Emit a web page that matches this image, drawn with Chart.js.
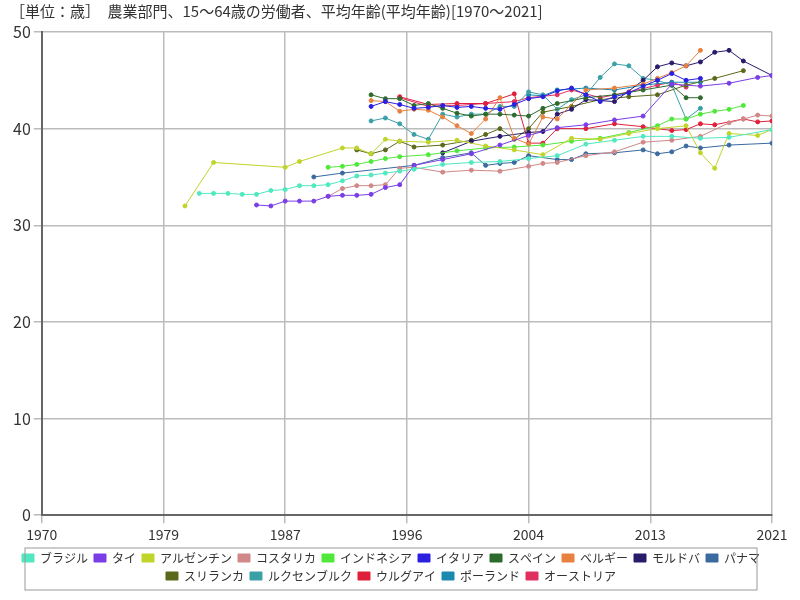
<!DOCTYPE html>
<html><head><meta charset="utf-8">
<script src="https://cdn.jsdelivr.net/npm/chart.js@4"></script>
<style>body{margin:0;background:#fff}</style>
</head><body><canvas id="myChart" width="800" height="600"></canvas>
<script>
// [year, age] pairs
const brazil = [[1981,33.3],[1982,33.3],[1983,33.3],[1984,33.2],[1985,33.2],[1986,33.6],[1987,33.7],[1988,34.1],[1989,34.1],[1990,34.2],[1991,34.6],[1992,35.1],[1993,35.2],[1994,35.4],[1995,35.6],[1996,35.8],[1998,36.3],[2000,36.5],[2002,36.6],[2004,36.9],[2006,37.2],[2008,38.4],[2010,38.8],[2012,39.2],[2014,39.2],[2016,39.0],[2018,39.1],[2021,39.9]];
const thai = [[1985,32.1],[1986,32.0],[1987,32.5],[1988,32.5],[1989,32.5],[1990,33.0],[1991,33.1],[1992,33.1],[1993,33.2],[1994,33.9],[1995,34.2],[1996,36.2],[1998,36.8],[2000,37.4],[2002,38.3],[2004,39.3],[2006,40.1],[2008,40.4],[2010,40.9],[2012,41.3],[2014,44.6],[2016,44.4],[2018,44.7],[2020,45.3],[2021,45.5]];
const argentina = [[1980,32.0],[1982,36.5],[1987,36.0],[1988,36.6],[1991,38.0],[1992,38.0],[1993,37.4],[1994,38.9],[1995,38.7],[1997,38.6],[1999,38.8],[2001,38.2],[2003,37.8],[2005,37.3],[2007,39.0],[2009,38.9],[2011,39.5],[2013,40.0],[2015,40.3],[2016,37.5],[2017,35.9],[2018,39.5],[2020,39.3],[2021,39.9]];
const costaRica = [[1990,33.0],[1991,33.8],[1992,34.1],[1993,34.1],[1994,34.2],[1995,35.9],[1996,36.0],[1998,35.5],[2000,35.7],[2002,35.6],[2004,36.1],[2005,36.4],[2006,36.5],[2008,37.2],[2010,37.6],[2012,38.6],[2014,38.8],[2016,39.2],[2018,40.6],[2019,41.0],[2020,41.4],[2021,41.3]];
const indonesia = [[1990,36.0],[1991,36.1],[1992,36.3],[1993,36.6],[1994,36.9],[1995,37.1],[1997,37.3],[1999,37.7],[2001,38.0],[2003,38.1],[2005,38.3],[2007,38.7],[2009,39.0],[2011,39.6],[2013,40.3],[2014,41.0],[2015,41.0],[2016,41.5],[2017,41.8],[2018,42.0],[2019,42.4]];
const italy = [[1993,42.3],[1994,42.8],[1995,42.5],[1996,42.1],[1997,42.2],[1998,42.4],[1999,42.2],[2000,42.3],[2001,42.1],[2002,42.0],[2003,42.5],[2004,43.1],[2005,43.3],[2006,43.9],[2007,44.2],[2008,43.5],[2009,42.8],[2010,43.3],[2011,43.7],[2012,44.4],[2013,45.0],[2014,45.7],[2015,45.0],[2016,45.2]];
const spain = [[1993,43.5],[1994,43.1],[1995,43.1],[1996,42.4],[1997,42.6],[1998,42.1],[1999,41.6],[2000,41.3],[2001,41.5],[2002,41.5],[2003,41.4],[2004,41.3],[2005,42.1],[2006,42.6],[2008,43.2],[2010,43.5],[2012,44.0],[2014,44.5],[2015,43.2],[2016,43.2]];
const belgium = [[1993,42.9],[1994,42.8],[1995,41.8],[1996,42.0],[1997,41.9],[1998,41.2],[1999,40.3],[2000,39.5],[2001,41.0],[2002,43.2],[2003,39.0],[2004,38.4],[2005,41.2],[2006,41.0],[2008,44.0],[2010,44.2],[2012,44.6],[2013,45.2],[2014,45.8],[2015,46.5],[2016,48.1]];
const moldova = [[1998,37.5],[2000,38.7],[2002,39.2],[2004,39.6],[2005,39.7],[2006,41.5],[2007,42.0],[2008,43.0],[2010,42.8],[2012,45.0],[2013,46.4],[2014,46.8],[2015,46.5],[2016,46.9],[2017,47.9],[2018,48.1],[2019,47.0],[2021,45.5]];
const panama = [[1989,35.0],[1991,35.4],[1996,36.2],[1998,37.0],[2000,37.5],[2001,36.2],[2002,36.4],[2003,36.5],[2004,37.2],[2006,36.8],[2007,36.8],[2008,37.4],[2010,37.5],[2012,37.8],[2013,37.4],[2014,37.6],[2015,38.2],[2016,38.0],[2018,38.3],[2021,38.5]];
const sriLanka = [[1992,37.8],[1993,37.4],[1994,37.8],[1995,38.7],[1996,38.1],[1998,38.3],[2000,38.8],[2001,39.4],[2002,40.0],[2003,38.9],[2004,40.0],[2005,41.7],[2007,42.3],[2009,43.0],[2011,43.3],[2013,43.5],[2015,44.5],[2017,45.2],[2019,46.0]];
const luxembourg = [[1993,40.8],[1994,41.1],[1995,40.5],[1996,39.4],[1997,38.9],[1998,41.5],[1999,41.2],[2000,41.5],[2001,41.5],[2002,42.3],[2003,42.3],[2004,43.8],[2005,43.5],[2006,42.0],[2007,43.0],[2008,43.5],[2009,45.3],[2010,46.7],[2011,46.5],[2012,45.2],[2013,45.0],[2014,44.5],[2015,41.0],[2016,42.1]];
const uruguay = [[1995,43.3],[1997,42.5],[1999,42.6],[2001,42.6],[2003,43.6],[2004,38.5],[2005,38.5],[2006,40.0],[2008,40.0],[2010,40.5],[2012,40.2],[2014,39.8],[2015,39.9],[2016,40.5],[2017,40.4],[2019,41.0],[2020,40.7],[2021,40.8]];
const poland = [[2004,43.5],[2005,43.4],[2006,44.0],[2008,44.2],[2010,44.0],[2012,44.5],[2014,44.8],[2016,44.8]];
const austria = [[1995,43.2],[1997,42.3],[1999,42.4],[2001,42.6],[2003,42.8],[2004,43.2],[2006,43.5],[2007,44.0],[2009,43.2],[2011,43.8],[2013,44.5],[2014,44.8],[2015,44.3]];

const names = ["ブラジル","タイ","アルゼンチン","コスタリカ","インドネシア","イタリア","スペイン","ベルギー","モルドバ","パナマ","スリランカ","ルクセンブルク","ウルグアイ","ポーランド","オーストリア"];
const series = [brazil,thai,argentina,costaRica,indonesia,italy,spain,belgium,moldova,panama,sriLanka,luxembourg,uruguay,poland,austria];
const colors = ["#50e8c0","#7a3ee6","#c0d42a","#d08888","#50e83a","#2a20e0","#2e6a2e","#e88040","#2a1a6a","#3a6aa0","#5a6a1a","#3aa0a8","#e0203a","#1a8ab0","#e03060"];

Chart.defaults.font.family = "'Noto Sans CJK JP', 'Noto Sans', sans-serif";

// thin frame around the legend, like the reference
const legendBox = {
  id: "legendBox",
  afterDraw(chart) {
    const l = chart.legend, c = chart.ctx;
    c.save();
    c.strokeStyle = "#999";
    c.lineWidth = 1;
    c.strokeRect(l.left + 15, l.top + 2, l.width - 30, l.height - 4);
    c.restore();
  },
};

new Chart(document.getElementById("myChart"), {
  type: "line",
  data: {
    datasets: series.map((s, i) => ({
      label: names[i],
      data: s.map(p => ({ x: p[0], y: p[1] })),
      borderColor: colors[i],
      backgroundColor: colors[i],
      borderWidth: 1,
      pointRadius: 2,
    })),
  },
  options: {
    responsive: false,
    animation: false,
    layout: { padding: { left: 10, right: 28, top: 2, bottom: 8 } },
    scales: {
      x: {
        type: "linear", min: 1970, max: 2021,
        ticks: { stepSize: 8.5, callback: v => Math.round(v), color: "#333", font: { size: 14 } },
        grid: { color: "#bbb", lineWidth: 1.5 },
        border: { color: "#666", width: 2 },
      },
      y: {
        min: 0, max: 50,
        ticks: { stepSize: 10, color: "#333", font: { size: 16 } },
        grid: { color: "#bbb", lineWidth: 1.5 },
        border: { color: "#666", width: 2 },
      },
    },
    plugins: {
      title: {
        display: true, align: "start",
        text: "［単位：歳］　農業部門、15～64歳の労働者、平均年齢(平均年齢)[1970～2021]",
        color: "#333", font: { size: 15, weight: "normal" }, padding: { bottom: 12 },
      },
      legend: {
        position: "bottom",
        labels: { boxWidth: 12, boxHeight: 8, font: { size: 12 }, color: "#333", padding: 6 },
      },
    },
  },
  plugins: [legendBox],
});
</script></body></html>
